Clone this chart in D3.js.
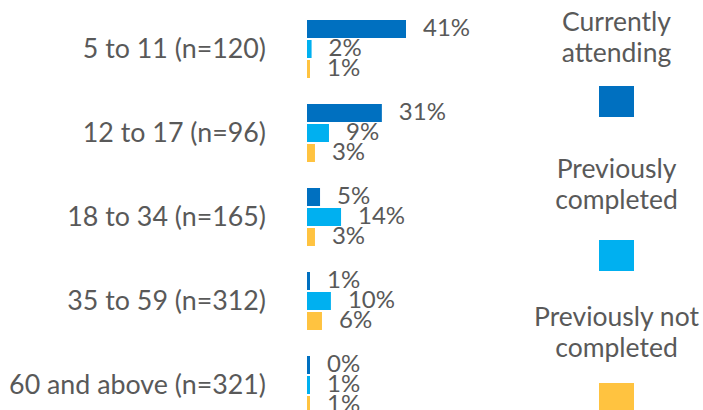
<!DOCTYPE html>
<html>
<head>
<meta charset="utf-8">
<script src="https://cdn.jsdelivr.net/npm/d3@7"></script>
<style>
  body { margin: 0; background: #fff; }
  svg text { font-family: Lato, "Open Sans", sans-serif; fill: #595959; }
</style>
</head>
<body>
<div id="vis"></div>
<script>
// age groups (categories)
var ageGroups = ["5 to 11 (n=120)", "12 to 17 (n=96)", "18 to 34 (n=165)", "35 to 59 (n=312)", "60 and above (n=321)"];

// series names and values (percent)
var seriesNames = ["Currently attending", "Previously completed", "Previously not completed"];
var currentlyAttending = [41, 31, 5.4, 1.2, 0.4];
var previouslyCompleted = [1.9, 9.1, 14.1, 9.9, 1.2];
var previouslyNotCompleted = [1.2, 3.3, 3.3, 6.2, 1.2];

var legendLines = [["Currently", "attending"], ["Previously", "completed"], ["Previously not", "completed"]];
var colors = ["#0070C0", "#00B0F0", "#FFC340"];

var width = 703, height = 410;

var svg = d3.select("#vis")
    .append("svg")
    .attr("width", width)
    .attr("height", height);

var seriesValues = [currentlyAttending, previouslyCompleted, previouslyNotCompleted];

// build rows: one per age group, each holding three values
var rows = ageGroups.map(function(g, i) {
  return {group: g, values: seriesValues.map(function(s, j) { return {series: j, value: s[i]}; })};
});

var x = d3.scaleLinear()
    .domain([0, 41])
    .range([307, 406]);

var y = d3.scaleBand()
    .domain(ageGroups)
    .range([8, 428])
    .paddingInner(24 / 84)
    .paddingOuter(12 / 84);

var ySub = d3.scaleBand()
    .domain([0, 1, 2])
    .range([0, 58])
    .paddingInner(0.1);

var groups = svg.selectAll(".group")
    .data(rows)
    .enter()
    .append("g")
    .attr("class", "group")
    .attr("transform", function(d) { return "translate(0," + y(d.group) + ")"; });

// category labels
groups.append("text")
    .attr("x", 266)
    .attr("y", 29 + 9)
    .attr("text-anchor", "end")
    .style("font-size", "26.8px")
    .text(function(d) { return d.group; });

// bars (keep a tiny visible stub for near-zero values)
groups.selectAll("rect")
    .data(function(d) { return d.values; })
    .enter()
    .append("rect")
    .attr("x", x(0))
    .attr("y", function(d) { return ySub(d.series); })
    .attr("height", ySub.bandwidth())
    .attr("width", function(d) { return Math.max(x(d.value) - x(0), 3); })
    .attr("fill", function(d) { return colors[d.series]; });

// value labels
groups.selectAll(".val")
    .data(function(d) { return d.values; })
    .enter()
    .append("text")
    .attr("class", "val")
    .attr("x", function(d) { return x(0) + Math.max(x(d.value) - x(0), 3) + 17; })
    .attr("y", function(d) { return ySub(d.series) + ySub.bandwidth() / 2 + 7; })
    .style("font-size", "24px")
    .text(function(d) { return Math.round(d.value) + "%"; });

////////// legend //////////
var legendTextY = [31, 178, 326];
var legendBoxY = [86, 240, 383];

var legend = svg.selectAll(".legend")
    .data(seriesNames)
    .enter()
    .append("g")
    .attr("class", "legend");

legend.append("text")
    .attr("text-anchor", "middle")
    .style("font-size", "26.5px")
    .selectAll("tspan")
    .data(function(d, i) { return legendLines[i].map(function(l) { return {line: l, i: i}; }); })
    .enter()
    .append("tspan")
    .attr("x", 616.5)
    .attr("y", function(d, k) { return legendTextY[d.i] + k * 31; })
    .text(function(d) { return d.line; });

legend.append("rect")
    .attr("x", 599)
    .attr("y", function(d, i) { return legendBoxY[i]; })
    .attr("width", 35)
    .attr("height", 31)
    .attr("fill", function(d, i) { return colors[i]; });
</script>
</body>
</html>
